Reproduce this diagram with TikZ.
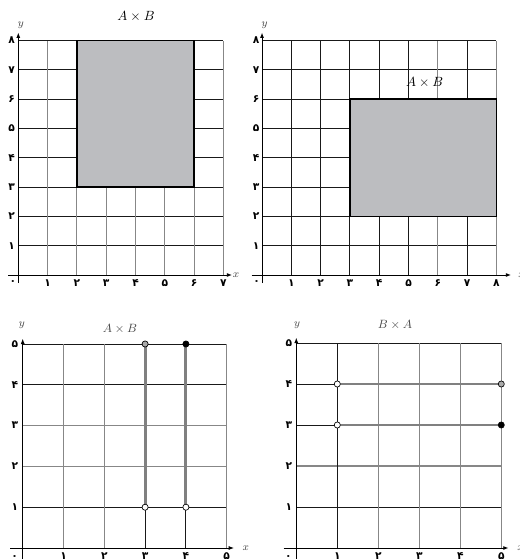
\documentclass[tikz,border=0pt]{standalone}
\usepackage{fontspec}
\newfontfamily\fa[Script=Arabic]{DejaVu Sans}
\usetikzlibrary{arrows.meta}
\definecolor{rectfill}{RGB}{188,189,192}
\definecolor{gridg}{RGB}{135,135,135}
\definecolor{gridk}{RGB}{25,25,25}
\definecolor{thickg}{RGB}{128,128,128}
\definecolor{ptg}{RGB}{170,170,170}
\definecolor{labg}{RGB}{70,70,70}
\tikzset{
 gv/.style={draw=gridg, line width=0.8pt},
 gk/.style={draw=gridk, line width=0.7pt},
 axisline/.style={draw=black, line width=0.7pt, -{Latex[length=4pt,width=3pt]}},
 tick/.style={font=\fa\bfseries\footnotesize, inner sep=0pt},
 title/.style={font=\normalsize, inner sep=0pt},
 subtitle/.style={font=\small, inner sep=0pt, text=labg},
 axlab/.style={font=\footnotesize, inner sep=0pt, text=labg},
 region/.style={fill=rectfill, draw=black, line width=1.1pt},
 ray/.style={draw=thickg, line width=2.2pt},
 dot/.style={circle, draw=black, line width=0.5pt, inner sep=0pt, minimum size=4.6pt},
}
\begin{document}
\begin{tikzpicture}[x=0.75pt,y=-0.75pt]
\useasboundingbox (0,0) rectangle (519,559);

% ---------- Plot 1 ----------
\node[title] (t1) at (136,17) {$A\times B$};
\begin{scope}[xshift=13.73pt, yshift=-206.25pt, x=21.98pt, y=21.98pt]
 \foreach \i in {1,...,8} \draw[gk] (0,\i) -- (7,\i);
 \foreach \i in {1,...,7} \draw[gv] (\i,0) -- (\i,8);
 \path[region] (2,3) rectangle (6,8);
 \coordinate (o1a) at (-0.35,0);
 \coordinate (e1a) at ([xshift=6.5pt]7,0);
 \coordinate (o1b) at (0,-0.28);
 \coordinate (e1b) at ([yshift=6pt]0,8);
 \draw[axisline] (o1a) -- (e1a);
 \draw[axisline] (o1b) -- (e1b);
 \node[axlab] (x1) at (7.43,0) {$x$};
 \node[axlab] (y1) at (0.09,8.53) {$y$};
 \node[tick] (z1) at ([xshift=-4pt,yshift=-6pt]0,0) {۰};
 \foreach \i/\d in {1/۱,2/۲,3/۳,4/۴,5/۵,6/۶,7/۷}
   \node[tick] at ([yshift=-6pt]\i,0) {\d};
 \foreach \i/\d in {1/۱,2/۲,3/۳,4/۴,5/۵,6/۶,7/۷,8/۸}
   \node[tick] at ([xshift=-5pt]0,\i) {\d};
\end{scope}

% ---------- Plot 2 ----------
\begin{scope}[xshift=196.5pt, yshift=-206.25pt, x=21.98pt, y=21.98pt]
 \foreach \i in {1,...,8} \draw[gk] (0,\i) -- (8,\i);
 \foreach \i in {1,...,5,7} \draw[gk] (\i,0) -- (\i,8);
 \foreach \i in {6,8} \draw[gv] (\i,0) -- (\i,8);
 \path[region] (3,2) rectangle (8,6);
 \node[title] (t2) at (5.55,6.56) {$A\times B$};
 \coordinate (o2a) at (-0.35,0);
 \coordinate (e2a) at ([xshift=11pt]8,0);
 \coordinate (o2b) at (0,-0.28);
 \coordinate (e2b) at ([yshift=6pt]0,8);
 \draw[axisline] (o2a) -- (e2a);
 \draw[axisline] (o2b) -- (e2b);
 \node[axlab] (x2) at (8.86,0) {$x$};
 \node[axlab] (y2) at (0.09,8.53) {$y$};
 \node[tick] (z2) at ([xshift=-4pt,yshift=-6pt]0,0) {۰};
 \foreach \i/\d in {1/۱,2/۲,3/۳,4/۴,5/۵,6/۶,7/۷,8/۸}
   \node[tick] at ([yshift=-6pt]\i,0) {\d};
 \foreach \i/\d in {1/۱,2/۲,3/۳,4/۴,5/۵,6/۶,7/۷,8/۸}
   \node[tick] at ([xshift=-4.5pt]0,\i) {\d};
\end{scope}

% ---------- Plot 3 ----------
\node[subtitle] (t3) at (120,329) {$A\times B$};
\begin{scope}[xshift=17.03pt, yshift=-411pt, x=30.6pt, y=30.6pt]
 \foreach \i in {1,4,5} \draw[gk] (0,\i) -- (5,\i);
 \foreach \i in {2,3} \draw[gv] (0,\i) -- (5,\i);
 \foreach \i in {1,2,5} \draw[gv] (\i,0) -- (\i,5);
 \foreach \i in {3,4} \draw[gk] (\i,0) -- (\i,1);
 \draw[ray] (3,1) -- (3,5);
 \draw[ray] (4,1) -- (4,5);
 \node[dot, fill=white] (p31) at (3,1) {};
 \node[dot, fill=white] (p41) at (4,1) {};
 \node[dot, fill=ptg] (p35) at (3,5) {};
 \node[dot, fill=black] (p45) at (4,5) {};
 \coordinate (o3a) at (-0.31,0);
 \coordinate (e3a) at ([xshift=5.5pt]5,0);
 \coordinate (o3b) at (0,-0.3);
 \coordinate (e3b) at ([yshift=4pt]0,5);
 \draw[axisline] (o3a) -- (e3a);
 \draw[axisline] (o3b) -- (e3b);
 \node[axlab] (x3) at (5.47,0) {$x$};
 \node[axlab] (y3) at (-0.02,5.47) {$y$};
 \node[tick] (z3) at ([xshift=-6pt,yshift=-7pt]0,0) {۰};
 \foreach \i/\d in {1/۱,2/۲,3/۳,4/۴,5/۵}
   \node[tick] at ([yshift=-6pt]\i,0) {\d};
 \foreach \i/\d in {1/۱,2/۲,3/۳,4/۴,5/۵}
   \node[tick] at ([xshift=-5.8pt]0,\i) {\d};
\end{scope}

% ---------- Plot 4 ----------
\node[subtitle] (t4) at (395,325) {$B\times A$};
\begin{scope}[xshift=222.2pt, yshift=-411pt, x=30.75pt, y=30.75pt]
 \foreach \i in {1,5} \draw[gk] (0,\i) -- (5,\i);
 \draw[gv] (0,2) -- (5,2);
 \foreach \i in {3,4} \draw[gk] (0,\i) -- (1,\i);
 \draw[gk] (1,0) -- (1,5);
 \foreach \i in {2,3,4,5} \draw[gv] (\i,0) -- (\i,5);
 \draw[ray] (1,4) -- (5,4);
 \draw[ray] (1,3) -- (5,3);
 \node[dot, fill=white] (q14) at (1,4) {};
 \node[dot, fill=white] (q13) at (1,3) {};
 \node[dot, fill=ptg] (q54) at (5,4) {};
 \node[dot, fill=black] (q53) at (5,3) {};
 \coordinate (o4a) at (-0.31,0);
 \coordinate (e4a) at ([xshift=5.5pt]5,0);
 \coordinate (o4b) at (0,-0.3);
 \coordinate (e4b) at ([yshift=4pt]0,5);
 \draw[axisline] (o4a) -- (e4a);
 \draw[axisline] (o4b) -- (e4b);
 \node[axlab] (x4) at (5.47,0) {$x$};
 \node[axlab] (y4) at (0.02,5.44) {$y$};
 \node[tick] (z4) at ([xshift=-6pt,yshift=-7pt]0,0) {۰};
 \foreach \i/\d in {1/۱,2/۲,3/۳,4/۴,5/۵}
   \node[tick] at ([yshift=-6pt]\i,0) {\d};
 \foreach \i/\d in {1/۱,2/۲,3/۳,4/۴,5/۵}
   \node[tick] at ([xshift=-5.5pt]0,\i) {\d};
\end{scope}
\end{tikzpicture}
\end{document}
